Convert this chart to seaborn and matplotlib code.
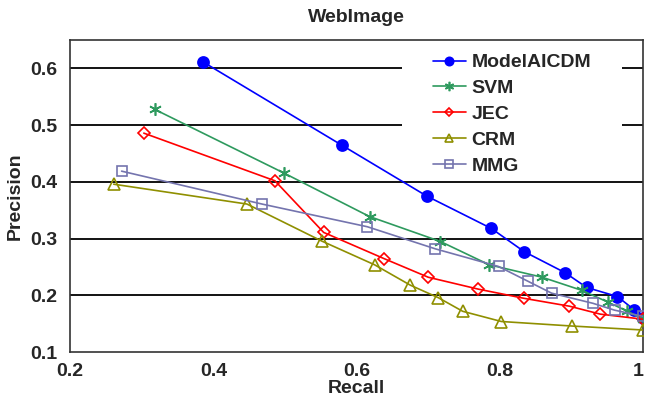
import pandas as pd
import matplotlib
matplotlib.use("Agg")
import matplotlib.pyplot as plt
from matplotlib.patches import Rectangle
import seaborn as sns

sns.set_style("white")
plt.rcParams['font.family'] = ['Liberation Sans', 'DejaVu Sans']

# precision-recall points
recall_aicdm = [0.385, 0.579, 0.698, 0.788, 0.834, 0.891, 0.921, 0.964, 0.987, 1.0]
prec_aicdm = [0.612, 0.465, 0.375, 0.318, 0.277, 0.240, 0.214, 0.198, 0.175, 0.160]

recall_svm = [0.318, 0.498, 0.618, 0.717, 0.785, 0.859, 0.914, 0.951, 0.978, 1.0]
prec_svm = [0.528, 0.416, 0.339, 0.295, 0.254, 0.232, 0.209, 0.188, 0.172, 0.158]

recall_jec = [0.303, 0.486, 0.554, 0.638, 0.700, 0.770, 0.833, 0.897, 0.940, 1.0]
prec_jec = [0.486, 0.402, 0.311, 0.265, 0.232, 0.211, 0.195, 0.181, 0.167, 0.158]

recall_crm = [0.261, 0.447, 0.551, 0.625, 0.675, 0.714, 0.748, 0.802, 0.901, 1.0]
prec_crm = [0.396, 0.361, 0.296, 0.254, 0.218, 0.196, 0.172, 0.154, 0.146, 0.139]

recall_mmg = [0.272, 0.468, 0.615, 0.710, 0.798, 0.839, 0.872, 0.930, 0.960, 1.0]
prec_mmg = [0.419, 0.361, 0.321, 0.282, 0.251, 0.225, 0.204, 0.186, 0.174, 0.163]

methods = ['ModelAICDM', 'SVM', 'JEC', 'CRM', 'MMG']
recalls = [recall_aicdm, recall_svm, recall_jec, recall_crm, recall_mmg]
precisions = [prec_aicdm, prec_svm, prec_jec, prec_crm, prec_mmg]

colors = ['#0000FF', '#2E9A5E', '#FF0000', '#8F8F00', '#7474AE']
markers = ['o', (6, 2, 0), 'D', '^', 's']
msizes = [8, 9, 6, 8, 7]

fig = plt.figure(figsize=(6.47, 4.09), dpi=100)
ax = fig.add_axes([0.1082, 0.139, 0.886, 0.763])

for name, rc, pr, c, m, ms in zip(methods, recalls, precisions, colors, markers, msizes):
    df = pd.DataFrame({'Recall': rc, 'Precision': pr})
    filled = (name == 'ModelAICDM')
    sns.lineplot(data=df, x='Recall', y='Precision', ax=ax, color=c, marker=m,
                 markersize=ms, linewidth=1.2, label=name, estimator=None,
                 markerfacecolor=c if filled else 'none', markeredgecolor=c,
                 markeredgewidth=1.2, zorder=3)

ax.set_xlim(0.2, 1.0)
ax.set_ylim(0.1, 0.65)
ax.set_xticks([0.2, 0.4, 0.6, 0.8, 1.0])
ax.set_xticklabels(['0.2', '0.4', '0.6', '0.8', '1'])
ax.set_yticks([0.1, 0.2, 0.3, 0.4, 0.5, 0.6])
ax.set_yticklabels(['0.1', '0.2', '0.3', '0.4', '0.5', '0.6'])
ax.tick_params(axis='x', length=0, labelsize=14, pad=8)
ax.tick_params(axis='y', length=0, labelsize=14, pad=9)
for lab in ax.get_xticklabels() + ax.get_yticklabels():
    lab.set_fontweight('bold')
# keep the last x label inside the picture
ax.get_xticklabels()[-1].set_horizontalalignment('right')

for yv in [0.2, 0.3, 0.4, 0.5, 0.6]:
    ax.axhline(yv, color='black', linewidth=1.3, zorder=1)

for side in ['left', 'bottom', 'top', 'right']:
    ax.spines[side].set_visible(True)
    ax.spines[side].set_color('#333333')
    ax.spines[side].set_linewidth(1.2)

ax.set_xlabel('Recall', fontsize=14, fontweight='bold', labelpad=0)
ax.set_ylabel('Precision', fontsize=14, fontweight='bold', labelpad=5)
ax.set_title('WebImage', fontsize=14, fontweight='bold', pad=13)

# white box behind the legend, breaks the grid lines like the original
ax.add_patch(Rectangle((0.580, 0.585), 0.383, 0.40, transform=ax.transAxes,
                       facecolor='white', edgecolor='none', zorder=2))

leg = ax.legend(loc='upper left', bbox_to_anchor=(0.634, 0.956), frameon=False,
                prop={'weight': 'bold', 'size': 14}, handlelength=1.65,
                handletextpad=0.3, labelspacing=0.42, borderpad=0,
                borderaxespad=0, markerscale=0.75)
leg.set_zorder(5)

plt.savefig('out.png', dpi=100)
